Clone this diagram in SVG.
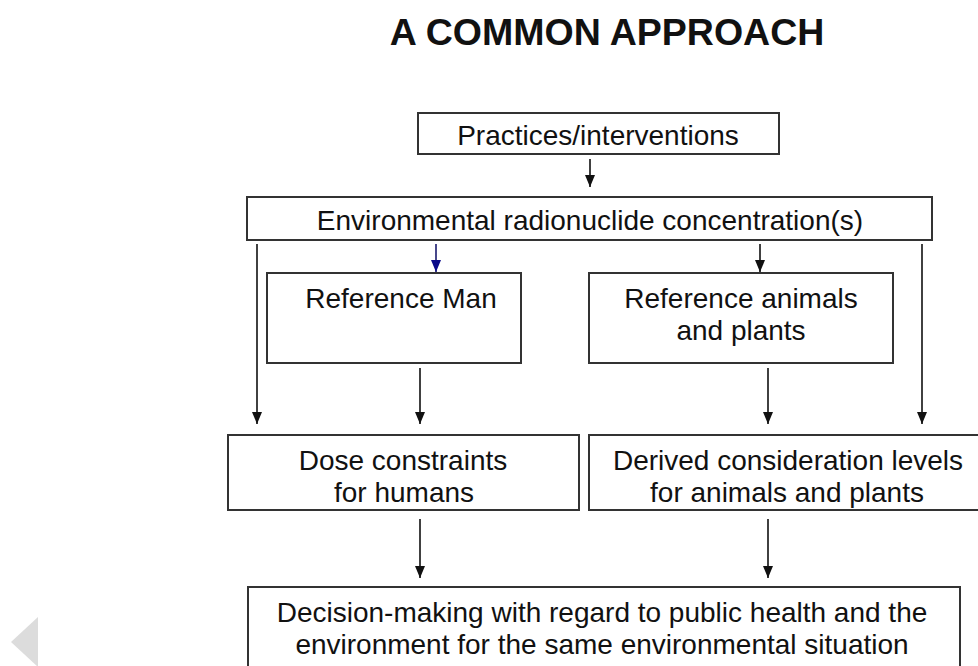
<svg xmlns="http://www.w3.org/2000/svg" width="978" height="666" viewBox="0 0 978 666">
<defs>
<style>
.box{fill:#fff;stroke:#333;stroke-width:2}
.t{font-family:"Liberation Sans",Arial,sans-serif;font-size:28px;fill:#111;text-anchor:middle}
.title{font-family:"Liberation Sans",Arial,sans-serif;font-size:37.5px;font-weight:bold;fill:#111;text-anchor:middle}
.c{stroke:#111;stroke-width:1.6;fill:none}
.cb{stroke:#1a1a6e;stroke-width:1.6;fill:none}
</style>
<marker id="ah" viewBox="0 0 12 10" refX="12" refY="5" markerWidth="12" markerHeight="10" markerUnits="userSpaceOnUse" orient="auto">
<path d="M0,0 L12,5 L0,10 Z" fill="#111"/>
</marker>
<marker id="ahb" viewBox="0 0 12 10" refX="12" refY="5" markerWidth="12" markerHeight="10" markerUnits="userSpaceOnUse" orient="auto">
<path d="M0,0 L12,5 L0,10 Z" fill="#0a0a8a"/>
</marker>
</defs>
<rect width="978" height="666" fill="#fff"/>
<text class="title" x="607" y="45">A COMMON APPROACH</text>

<g id="connectors">
<path class="c" d="M590,159 V187" marker-end="url(#ah)"/>
<path class="cb" d="M436,244 V272" marker-end="url(#ahb)"/>
<path class="c" d="M760,244 V272" marker-end="url(#ah)"/>
<path class="c" d="M257,244 V424" marker-end="url(#ah)"/>
<path class="c" d="M922,244 V424" marker-end="url(#ah)"/>
<path class="c" d="M420,368 V424" marker-end="url(#ah)"/>
<path class="c" d="M768,368 V424" marker-end="url(#ah)"/>
<path class="c" d="M420,519 V578" marker-end="url(#ah)"/>
<path class="c" d="M768,519 V578" marker-end="url(#ah)"/>
</g>

<g id="practices">
<rect class="box" x="418" y="113" width="361" height="41"/>
<text class="t" x="598" y="145">Practices/interventions</text>
</g>
<g id="environmental">
<rect class="box" x="247" y="197" width="685" height="43"/>
<text class="t" x="590" y="230">Environmental radionuclide concentration(s)</text>
</g>
<g id="reference-man">
<rect class="box" x="267" y="273" width="254" height="90"/>
<text class="t" x="401" y="308">Reference Man</text>
</g>
<g id="reference-animals">
<rect class="box" x="589" y="273" width="304" height="90"/>
<text class="t" x="741" y="308">Reference animals</text>
<text class="t" x="741" y="340">and plants</text>
</g>
<g id="dose-constraints">
<rect class="box" x="228" y="435" width="351" height="75"/>
<text class="t" x="403" y="470">Dose constraints</text>
<text class="t" x="404" y="502">for humans</text>
</g>
<g id="derived-levels">
<rect class="box" x="589" y="435" width="395" height="75"/>
<text class="t" x="788" y="470">Derived consideration levels</text>
<text class="t" x="787" y="502">for animals and plants</text>
</g>
<g id="decision">
<rect class="box" x="248" y="587" width="712" height="90"/>
<text class="t" x="602" y="622">Decision-making with regard to public health and the</text>
<text class="t" x="602" y="654">environment for the same environmental situation</text>
</g>
<polygon points="38,617 11,642 38,667" fill="#dcdcdc"/>
</svg>
